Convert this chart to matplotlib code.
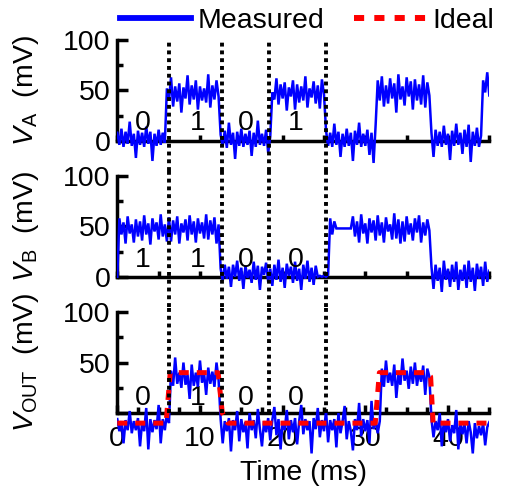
import numpy as np
import matplotlib
matplotlib.use("Agg")
import matplotlib.pyplot as plt
from matplotlib.lines import Line2D
from matplotlib.ticker import FixedLocator, MultipleLocator
from matplotlib.transforms import blended_transform_factory

plt.rcParams["font.family"] = ["Liberation Sans", "DejaVu Sans"]
plt.rcParams["font.size"] = 20.5
plt.rcParams["mathtext.fontset"] = "custom"
plt.rcParams["mathtext.rm"] = "Liberation Sans"
plt.rcParams["mathtext.it"] = "Liberation Sans:italic"

# === Data (mV, sampled every 0.25 ms) ===
dt = 0.25

va = [8, -4, 12, -6, 9, -3, 19, -5, 7, -17, 10, -4, 8, -6, 14, -3, 9, -20, 7, -5, 11, -4, 8, -2,
      52, 40, 63, 34, 54, 39, 57, 28, 53, 42, 65, 36, 55, 41, 60, 31, 54, 40, 52, 38, 66, 33, 55, 41, 60, 44,
      6, -5, 10, -7, 18, -4, 8, -18, 9, -5, 12, -6, 7, -4, 10, -15, 8, -6, 20, -4, 7, -5, 11, -12, 4,
      48, 41, 62, 36, 56, 42, 58, 30, 53, 44, 60, 31, 56, 38, 54, 40, 64, 33, 52, 43, 59, 37, 55, 32, 61, 46,
      10, -5, 8, -6, 17, -4, 9, -16, 7, -6, 12, -5, 8, -20, 10, -4, 18, -6, 7, -5, 11, -14, 8, -22, 16,
      60, 40, 64, 34, 55, 37, 62, 42, 57, 28, 66, 41, 54, 35, 63, 44, 59, 31, 61, 40, 56, 36, 65, 33, 58, 45,
      8, -16, 11, -5, 9, -6, 15, -4, 7, -19, 10, -5, 17, -4, 8, -13, 11, -6, 16, -21, 9, -5, 13, -6, 5,
      60, 48, 68, 45]

vb = [0,
      58, 42, 54, 33, 60, 43, 52, 34, 57, 40, 55, 36, 61, 42, 53, 32, 58, 45, 54, 37,
      62, 40, 52, 35, 59, 35, 56, 42, 60, 33, 53, 44, 57, 36, 61, 42, 55, 34, 58, 43,
      54, 38, 62, 37, 56, 42, 59, 33, 52,
      8, -4, 12, -2, 10, -10, 12, 0, 16, -4, 9, -12, 11, -1, 7, -6, 15, -3, 11, -13,
      10, 2, 14, -5, 8, -9, 12, -3, 17, -5, 9, -11, 13, 1, 10, -6, 15, -4, 8, -13,
      12, -2, 16, -5, 9, -8, 11, 0, 1, 0, 1, 0, 2,
      58, 42, 55, 48, 48, 48, 48, 48, 48, 48, 48, 60, 40, 55, 34, 62, 43, 53, 33, 58,
      44, 56, 36, 61, 41, 54, 34, 59, 45, 52, 37, 63, 38, 57, 33, 55, 35, 60, 42, 53,
      36, 58, 44, 61, 34, 54, 41, 57, 46,
      10, -12, 12, -4, 9, -15, 16, -3, 8, -10, 12, -5, 15, -13, 7, -4, 12, -11, 16, -5,
      9, -14, 13, -2, 10, -9, 15, -5, 6]

vout = [-6, -18, -8, -30, -7, -17, 2, -20, -8, -17, -5, -33, -9, -18, 5, -36, -6, -19, -7, -16,
        8, -30, -6, -17, 0, -10,
        42, 27, 55, 29, 40, 25, 50, 28, 38, 14, 48, 27, 40, 26, 52, 30, 39, 18, 45, 29, 41, 26, 50, 33,
        -6, -30, -8, -18, -5, -38, -7, -17, 2, -28, -6, -19, -9, -35, 0, -17, -7, -25, 4, -16,
        -33, -8, -19, -5, -27, -7, 6, -22, -6, -36, -8, -17, 3, -26, -7, -19, -5, -31, -8, 8,
        -21, -6, -17, -8, -40, -5, -16, 5, -24, -7, -18, 2, -29, -7, -17, -6, -34, 0, -20, -8,
        7, -26, -8, -18, -37, -6, -17, 10, -23, -6, -18, -7, -30, 12, -16, -6, -20, -8,
        44, 26, 52, 30, 40, 27, 48, 15, 38, 28, 54, 32, 42, 24, 46, 29, 50, 27, 41, 31, 47, 18, 44, 36,
        -6, -24, -8, -17, 0, -33, -8, -19, -6, -28, -12, -20, 3, -36, -9, -21, -11, -30, -8, -19,
        -40, -10, -25, -13, -22, -10, -32, -14, -9]

ideal_t = [0, 5.9, 6.4, 12.2, 12.7, 13.4, 31.2, 31.7, 37.3, 37.9, 38.2, 45]
ideal_v = [-10, -10, 40, 40, 0, -10, -10, 40, 40, 36, -10, -10]

clock_t = [6.25, 12.7, 18.4, 25.2]
bit_t = [3.1, 9.7, 15.5, 21.6]
bits_a = ["0", "1", "0", "1"]
bits_b = ["1", "1", "0", "0"]
bits_out = ["0", "1", "0", "0"]

# === Figure ===
fig = plt.figure(figsize=(5.12, 4.94), dpi=100)
ax1 = fig.add_axes([0.2291, 0.6538, 0.7266, 0.2753])
ax2 = fig.add_axes([0.2291, 0.3785, 0.7266, 0.2753])
ax3 = fig.add_axes([0.2291, 0.0617, 0.7266, 0.3168])

blue = "#0000ff"


def style(ax, ylo, ylabel):
    ax.set_xlim(0, 45)
    ax.set_ylim(ylo, 105)
    ax.patch.set_visible(False)
    ax.spines["top"].set_visible(False)
    ax.spines["right"].set_visible(False)
    ax.spines["bottom"].set_position(("data", 0))
    ax.spines["left"].set_bounds(0, 100)
    ax.spines["bottom"].set_bounds(0, 45)
    for s in ["left", "bottom"]:
        ax.spines[s].set_linewidth(2.5)
    ax.yaxis.set_major_locator(FixedLocator([0, 50, 100]))
    ax.yaxis.set_minor_locator(FixedLocator([25, 75]))
    ax.tick_params(axis="y", which="major", direction="in", length=8, width=2.5, pad=5)
    ax.tick_params(axis="y", which="minor", direction="in", length=4, width=2.5)
    ax.set_ylabel(ylabel)
    tr = blended_transform_factory(ax.transAxes, ax.transData)
    ax.yaxis.set_label_coords(-0.205, 50, transform=tr)


for ax, v, lab, bits, by, ylo in [(ax1, va, r"$V_{\mathrm{A}}$  (mV)", bits_a, 18, -30),
                                  (ax2, vb, r"$V_{\mathrm{B}}$  (mV)", bits_b, 17, -30),
                                  (ax3, vout, r"$V_{\mathrm{OUT}}$  (mV)", bits_out, 15, -50)]:
    t = np.arange(len(v)) * dt
    ax.plot(t, v, color=blue, lw=1.8, zorder=3, solid_joinstyle="miter")
    style(ax, ylo, lab)
    for x, b in zip(bit_t, bits):
        ax.text(x, by, b, ha="center", va="center", zorder=2 if ax is ax3 else 3.2)

dots = [(0, (1, 1))]
ax1.vlines(clock_t, -30, 100, colors="black", lw=2.8, linestyles=dots, zorder=4)
ax2.vlines(clock_t, -30, 105, colors="black", lw=2.8, linestyles=dots, zorder=4)
ax3.vlines(clock_t, 0, 105, colors="black", lw=2.8, linestyles=dots, zorder=4)

ax3.plot(ideal_t, ideal_v, color="red", lw=3.6, linestyle=(0, (2, 1.6)), zorder=3.5)

for ax in (ax1, ax2):
    ax.xaxis.set_major_locator(MultipleLocator(5))
    ax.tick_params(axis="x", which="major", direction="in", length=4, width=2.5, labelbottom=False)

ax3.xaxis.set_major_locator(MultipleLocator(10))
ax3.xaxis.set_minor_locator(MultipleLocator(2.5))
ax3.tick_params(axis="x", which="major", direction="in", length=6, width=2.5, pad=9)
ax3.tick_params(axis="x", which="minor", direction="in", length=4, width=2.5)
ax3.set_yticklabels(["", "50", "100"])
ax3.set_xlabel("Time (ms)", labelpad=6)

h_meas = Line2D([], [], color=blue, lw=4.2)
h_ideal = Line2D([], [], color="red", lw=4.3, linestyle=(0, (1.7, 1.7)))
ax1.legend([h_meas, h_ideal], ["Measured", "Ideal"], loc="center", bbox_to_anchor=(0.51, 1.103),
           ncol=2, frameon=False, handlelength=2.5, handletextpad=0.25, columnspacing=1.05,
           borderaxespad=0, borderpad=0)

fig.savefig("out.png", dpi=100)
